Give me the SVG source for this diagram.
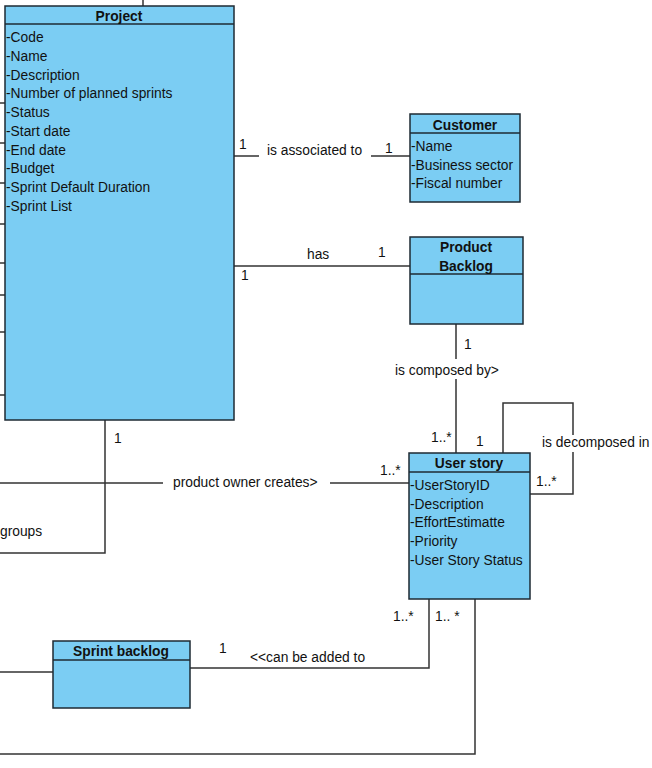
<svg xmlns="http://www.w3.org/2000/svg" width="652" height="768" viewBox="0 0 652 768">
<style>
.box{fill:#7BCDF3;stroke:#1E2A33;stroke-width:1.5}
.sep{stroke:#1E2A33;stroke-width:1.5}
.ln{fill:none;stroke:#333;stroke-width:1.5}
text{font-family:"Liberation Sans",Arial,sans-serif;font-size:13.8px;fill:#111}
.t{font-weight:bold;text-anchor:middle}
</style>
<rect width="652" height="768" fill="#fff"/>
<g id="connectors">
<path class="ln" d="M143 0V6"/>
<path class="ln" d="M0 103H5M0 143H5M0 183H5M0 224H5M0 263H5M0 295H5M0 332H5M0 395H5"/>
<path class="ln" d="M234 156H259M371 156H410"/>
<path class="ln" d="M234 266H410"/>
<path class="ln" d="M456 324V359M456 379V453"/>
<path class="ln" d="M503 453V403H573V435M573 452V494H530"/>
<path class="ln" d="M105 420V553H0"/>
<path class="ln" d="M0 483H163M330 483H409"/>
<path class="ln" d="M429 599V668H190"/>
<path class="ln" d="M475 599V754H0"/>
<path class="ln" d="M0 672H53"/>
<text x="239" y="149">1</text>
<text x="267" y="155">is associated to</text>
<text x="385" y="153">1</text>
<text x="307" y="259">has</text>
<text x="378" y="257">1</text>
<text x="241" y="280">1</text>
<text x="464" y="349">1</text>
<text x="395" y="375">is composed by&gt;</text>
<text x="431" y="442">1..*</text>
<text x="476" y="446">1</text>
<text x="542" y="447">is decomposed in</text>
<text x="536" y="486">1..*</text>
<text x="114" y="443">1</text>
<text x="173" y="487">product owner creates&gt;</text>
<text x="380" y="475">1..*</text>
<text x="0" y="536">groups</text>
<text x="393" y="621">1..*</text>
<text x="435" y="621">1.. *</text>
<text x="219" y="653">1</text>
<text x="250" y="662">&lt;&lt;can be added to</text>
</g>
<g id="project">
<rect class="box" x="5" y="6" width="229" height="414"/>
<path class="sep" d="M5 24H234"/>
<text class="t" x="119" y="21">Project</text>
<text x="6" y="42">-Code</text>
<text x="6" y="61">-Name</text>
<text x="6" y="80">-Description</text>
<text x="6" y="98">-Number of planned sprints</text>
<text x="6" y="117">-Status</text>
<text x="6" y="136">-Start date</text>
<text x="6" y="155">-End date</text>
<text x="6" y="173">-Budget</text>
<text x="6" y="192">-Sprint Default Duration</text>
<text x="6" y="211">-Sprint List</text>
</g>
<g id="customer">
<rect class="box" x="410" y="114" width="110" height="88"/>
<path class="sep" d="M410 133H520"/>
<text class="t" x="465" y="130">Customer</text>
<text x="411" y="151">-Name</text>
<text x="411" y="170">-Business sector</text>
<text x="411" y="188">-Fiscal number</text>
</g>
<g id="product-backlog">
<rect class="box" x="410" y="237" width="113" height="87"/>
<path class="sep" d="M410 274H523"/>
<text class="t" x="466" y="252">Product</text>
<text class="t" x="466" y="271">Backlog</text>
</g>
<g id="user-story">
<rect class="box" x="409" y="453" width="121" height="146"/>
<path class="sep" d="M409 472H530"/>
<text class="t" x="469" y="468">User story</text>
<text x="410" y="490">-UserStoryID</text>
<text x="410" y="509">-Description</text>
<text x="410" y="527">-EffortEstimatte</text>
<text x="410" y="546">-Priority</text>
<text x="410" y="565">-User Story Status</text>
</g>
<g id="sprint-backlog">
<rect class="box" x="53" y="641" width="137" height="67"/>
<path class="sep" d="M53 660H190"/>
<text class="t" x="121" y="656">Sprint backlog</text>
</g>
</svg>
